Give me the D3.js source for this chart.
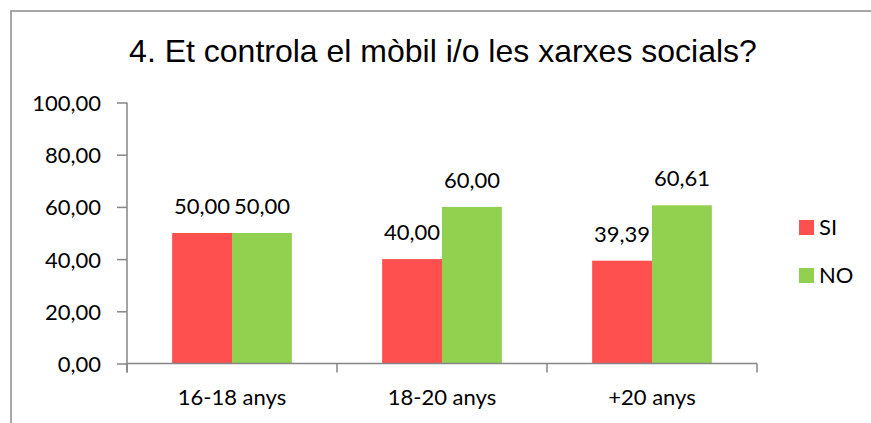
<!DOCTYPE html>
<html>
<head>
<meta charset="utf-8">
<script src="https://cdn.jsdelivr.net/npm/d3@7"></script>
<style>
  body { margin: 0; background: #fff; }
  svg { display: block; }
  .tick text, .label, .legend text { font-family: Lato, "Open Sans", sans-serif; font-size: 22px; fill: #000; }
</style>
</head>
<body>
<svg id="svg" width="871" height="423"></svg>
<script>
var title = "4. Et controla el mòbil i/o les xarxes socials?";
var categories = ["16-18 anys", "18-20 anys", "+20 anys"];
var seriesNames = ["SI", "NO"];
var siValues = [50.00, 40.00, 39.39];
var noValues = [50.00, 60.00, 60.61];
var yTicks = [0, 20, 40, 60, 80, 100];
var colors = ["#FF5050", "#92D050"];

var svg = d3.select("#svg");

var locale = d3.formatLocale({ decimal: ",", thousands: ".", grouping: [3], currency: ["", ""] });
var fmt = locale.format(".2f");

// chart frame
svg.append("rect")
    .attr("x", 11)
    .attr("y", 11)
    .attr("width", 900)
    .attr("height", 460)
    .attr("fill", "none")
    .attr("stroke", "#8a8a8a")
    .attr("stroke-width", 1.5);

svg.append("text")
    .attr("x", 443)
    .attr("y", 62)
    .attr("text-anchor", "middle")
    .style("font-family", "'Liberation Sans', Arial, sans-serif")
    .style("font-size", "32px")
    .text(title);

var x0 = d3.scaleBand().domain(categories).range([127, 757]).paddingInner(0.43).paddingOuter(0.215);
var x1 = d3.scaleBand().domain(seriesNames).range([0, x0.bandwidth()]);
var y = d3.scaleLinear().domain([0, 100]).range([363.5, 102.5]);

var rows = categories.map((c, i) => ({ cat: c, values: [siValues[i], noValues[i]] }));

var groups = svg.append("g")
    .selectAll("g")
    .data(rows)
    .enter()
    .append("g")
    .attr("transform", d => "translate(" + x0(d.cat) + ",0)");

groups.selectAll("rect")
    .data(d => d.values.map((v, j) => ({ key: seriesNames[j], value: v, color: colors[j] })))
    .enter()
    .append("rect")
    .attr("x", d => x1(d.key))
    .attr("width", x1.bandwidth())
    .attr("y", d => y(d.value))
    .attr("height", d => y(0) - y(d.value))
    .attr("fill", d => d.color);

groups.selectAll("text")
    .data(d => d.values.map((v, j) => ({ key: seriesNames[j], value: v })))
    .enter()
    .append("text")
    .attr("class", "label")
    .attr("x", d => x1(d.key) + x1.bandwidth() / 2)
    .attr("y", d => y(d.value) - 19)
    .attr("text-anchor", "middle")
    .text(d => fmt(d.value));

// y axis
var yAxis = svg.append("g")
    .attr("transform", "translate(127,0)")
    .call(d3.axisLeft(y).tickValues(yTicks).tickSize(10).tickPadding(16).tickFormat(fmt));
yAxis.select(".domain").attr("stroke", "#868686").attr("stroke-width", 1.5)
    .attr("d", "M0," + y(100) + "V" + (y(0) + 9));
yAxis.selectAll(".tick line").attr("stroke", "#868686").attr("stroke-width", 1.5);
yAxis.selectAll(".tick text").attr("dy", "0.36em");

// x axis with ticks on category boundaries
var xAxis = svg.append("g").attr("transform", "translate(0," + y(0) + ")");
xAxis.append("path")
    .attr("d", "M127,0H757")
    .attr("stroke", "#868686")
    .attr("stroke-width", 1.5);
var bounds = categories.map(c => x0(c) - x0.step() * x0.paddingInner() / 2 + x0.step()).concat([127]);
xAxis.selectAll("line.b")
    .data(bounds)
    .enter()
    .append("line")
    .attr("x1", d => d).attr("x2", d => d)
    .attr("y1", 0).attr("y2", 9)
    .attr("stroke", "#868686")
    .attr("stroke-width", 1.5);
xAxis.selectAll("text")
    .data(categories)
    .enter()
    .append("text")
    .attr("class", "label")
    .attr("x", d => x0(d) + x0.bandwidth() / 2)
    .attr("y", 41)
    .attr("text-anchor", "middle")
    .text(d => d);

// legend
var legend = svg.append("g").attr("class", "legend")
    .selectAll("g")
    .data(seriesNames)
    .enter()
    .append("g")
    .attr("transform", (d, i) => "translate(799," + (220 + i * 48) + ")");
legend.append("rect")
    .attr("width", 15)
    .attr("height", 15)
    .attr("fill", (d, i) => colors[i]);
legend.append("text")
    .attr("x", 20)
    .attr("y", 15)
    .text(d => d);
</script>
</body>
</html>
